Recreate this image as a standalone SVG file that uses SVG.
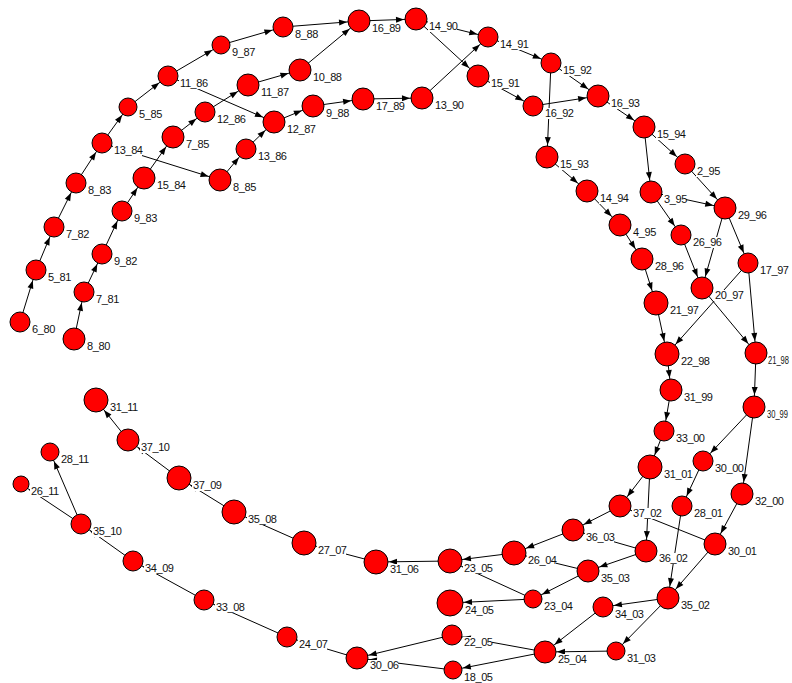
<svg xmlns="http://www.w3.org/2000/svg" width="792" height="683" viewBox="0 0 792 683">
<style>
.e line{stroke:#000;stroke-width:1}
.n circle{fill:#ff0000;stroke:#000;stroke-width:1}
.n rect{fill:#fff}
.n text{font-family:"Liberation Sans",Arial,sans-serif;font-size:11px;letter-spacing:-0.4px;fill:#111}
.n text.edge{font-size:10px;letter-spacing:0}
</style>
<defs>
<marker id="a8" markerUnits="userSpaceOnUse" markerWidth="30" markerHeight="30" refX="9" refY="0" orient="auto" overflow="visible"><path d="M0,0 L-8,-3 L-8,3 Z" fill="#000"/></marker>
<marker id="a9" markerUnits="userSpaceOnUse" markerWidth="30" markerHeight="30" refX="10" refY="0" orient="auto" overflow="visible"><path d="M0,0 L-8,-3 L-8,3 Z" fill="#000"/></marker>
<marker id="a10" markerUnits="userSpaceOnUse" markerWidth="30" markerHeight="30" refX="11" refY="0" orient="auto" overflow="visible"><path d="M0,0 L-8,-3 L-8,3 Z" fill="#000"/></marker>
<marker id="a11" markerUnits="userSpaceOnUse" markerWidth="30" markerHeight="30" refX="12" refY="0" orient="auto" overflow="visible"><path d="M0,0 L-8,-3 L-8,3 Z" fill="#000"/></marker>
<marker id="a12" markerUnits="userSpaceOnUse" markerWidth="30" markerHeight="30" refX="13" refY="0" orient="auto" overflow="visible"><path d="M0,0 L-8,-3 L-8,3 Z" fill="#000"/></marker>
<marker id="a13" markerUnits="userSpaceOnUse" markerWidth="30" markerHeight="30" refX="14" refY="0" orient="auto" overflow="visible"><path d="M0,0 L-8,-3 L-8,3 Z" fill="#000"/></marker>
</defs>
<rect width="792" height="683" fill="#fff"/>
<g id="edges" class="e">
<line x1="20" y1="322" x2="36" y2="270" marker-end="url(#a10)"/>
<line x1="36" y1="270" x2="54" y2="227" marker-end="url(#a10)"/>
<line x1="54" y1="227" x2="76" y2="183" marker-end="url(#a10)"/>
<line x1="76" y1="183" x2="102" y2="143" marker-end="url(#a10)"/>
<line x1="102" y1="143" x2="128" y2="107" marker-end="url(#a9)"/>
<line x1="128" y1="107" x2="168" y2="76" marker-end="url(#a10)"/>
<line x1="168" y1="76" x2="221" y2="45" marker-end="url(#a9)"/>
<line x1="221" y1="45" x2="283" y2="27" marker-end="url(#a10)"/>
<line x1="283" y1="27" x2="359" y2="21" marker-end="url(#a11)"/>
<line x1="359" y1="21" x2="416" y2="19" marker-end="url(#a11)"/>
<line x1="416" y1="19" x2="488" y2="37" marker-end="url(#a10)"/>
<line x1="416" y1="19" x2="478" y2="76" marker-end="url(#a11)"/>
<line x1="488" y1="37" x2="551" y2="63" marker-end="url(#a10)"/>
<line x1="478" y1="76" x2="533" y2="106" marker-end="url(#a10)"/>
<line x1="551" y1="63" x2="598" y2="96" marker-end="url(#a11)"/>
<line x1="533" y1="106" x2="598" y2="96" marker-end="url(#a11)"/>
<line x1="551" y1="63" x2="547" y2="157" marker-end="url(#a11)"/>
<line x1="598" y1="96" x2="644" y2="127" marker-end="url(#a11)"/>
<line x1="644" y1="127" x2="685" y2="164" marker-end="url(#a10)"/>
<line x1="644" y1="127" x2="651" y2="192" marker-end="url(#a11)"/>
<line x1="547" y1="157" x2="587" y2="191" marker-end="url(#a11)"/>
<line x1="587" y1="191" x2="620" y2="225" marker-end="url(#a11)"/>
<line x1="620" y1="225" x2="642" y2="259" marker-end="url(#a11)"/>
<line x1="642" y1="259" x2="656" y2="303" marker-end="url(#a12)"/>
<line x1="656" y1="303" x2="667" y2="354" marker-end="url(#a12)"/>
<line x1="685" y1="164" x2="725" y2="208" marker-end="url(#a11)"/>
<line x1="651" y1="192" x2="725" y2="208" marker-end="url(#a11)"/>
<line x1="651" y1="192" x2="681" y2="235" marker-end="url(#a10)"/>
<line x1="681" y1="235" x2="702" y2="288" marker-end="url(#a11)"/>
<line x1="725" y1="208" x2="702" y2="288" marker-end="url(#a11)"/>
<line x1="725" y1="208" x2="748" y2="263" marker-end="url(#a10)"/>
<line x1="748" y1="263" x2="667" y2="354" marker-end="url(#a12)"/>
<line x1="748" y1="263" x2="756" y2="353" marker-end="url(#a11)"/>
<line x1="702" y1="288" x2="756" y2="353" marker-end="url(#a11)"/>
<line x1="667" y1="354" x2="671" y2="390" marker-end="url(#a11)"/>
<line x1="671" y1="390" x2="664" y2="431" marker-end="url(#a10)"/>
<line x1="664" y1="431" x2="650" y2="467" marker-end="url(#a12)"/>
<line x1="756" y1="353" x2="754" y2="407" marker-end="url(#a11)"/>
<line x1="754" y1="407" x2="703" y2="461" marker-end="url(#a10)"/>
<line x1="754" y1="407" x2="742" y2="494" marker-end="url(#a11)"/>
<line x1="650" y1="467" x2="620" y2="506" marker-end="url(#a11)"/>
<line x1="650" y1="467" x2="646" y2="551" marker-end="url(#a11)"/>
<line x1="703" y1="461" x2="682" y2="506" marker-end="url(#a10)"/>
<line x1="682" y1="506" x2="668" y2="598" marker-end="url(#a11)"/>
<line x1="742" y1="494" x2="715" y2="544" marker-end="url(#a11)"/>
<line x1="715" y1="544" x2="668" y2="598" marker-end="url(#a11)"/>
<line x1="715" y1="544" x2="620" y2="506" marker-end="url(#a11)"/>
<line x1="620" y1="506" x2="573" y2="530" marker-end="url(#a11)"/>
<line x1="646" y1="551" x2="573" y2="530" marker-end="url(#a11)"/>
<line x1="646" y1="551" x2="588" y2="571" marker-end="url(#a11)"/>
<line x1="573" y1="530" x2="514" y2="553" marker-end="url(#a12)"/>
<line x1="588" y1="571" x2="514" y2="553" marker-end="url(#a12)"/>
<line x1="588" y1="571" x2="533" y2="599" marker-end="url(#a9)"/>
<line x1="514" y1="553" x2="450" y2="561" marker-end="url(#a12)"/>
<line x1="533" y1="599" x2="450" y2="561" marker-end="url(#a12)"/>
<line x1="533" y1="599" x2="450" y2="603" marker-end="url(#a13)"/>
<line x1="668" y1="598" x2="603" y2="607" marker-end="url(#a10)"/>
<line x1="668" y1="598" x2="616" y2="651" marker-end="url(#a9)"/>
<line x1="603" y1="607" x2="545" y2="652" marker-end="url(#a11)"/>
<line x1="616" y1="651" x2="545" y2="652" marker-end="url(#a11)"/>
<line x1="545" y1="652" x2="452" y2="635" marker-end="url(#a10)"/>
<line x1="545" y1="652" x2="453" y2="670" marker-end="url(#a9)"/>
<line x1="452" y1="635" x2="357" y2="658" marker-end="url(#a11)"/>
<line x1="453" y1="670" x2="357" y2="658" marker-end="url(#a11)"/>
<line x1="450" y1="561" x2="376" y2="562" marker-end="url(#a12)"/>
<line x1="376" y1="562" x2="304" y2="543" marker-end="url(#a12)"/>
<line x1="304" y1="543" x2="234" y2="512" marker-end="url(#a12)"/>
<line x1="234" y1="512" x2="179" y2="478" marker-end="url(#a12)"/>
<line x1="179" y1="478" x2="128" y2="440" marker-end="url(#a11)"/>
<line x1="128" y1="440" x2="96" y2="400" marker-end="url(#a12)"/>
<line x1="357" y1="658" x2="287" y2="637" marker-end="url(#a10)"/>
<line x1="287" y1="637" x2="204" y2="600" marker-end="url(#a10)"/>
<line x1="204" y1="600" x2="133" y2="561" marker-end="url(#a10)"/>
<line x1="133" y1="561" x2="81" y2="524" marker-end="url(#a10)"/>
<line x1="81" y1="524" x2="50" y2="452" marker-end="url(#a9)"/>
<line x1="81" y1="524" x2="21" y2="484" marker-end="url(#a8)"/>
<line x1="74" y1="339" x2="84" y2="292" marker-end="url(#a10)"/>
<line x1="84" y1="292" x2="102" y2="254" marker-end="url(#a10)"/>
<line x1="102" y1="254" x2="122" y2="211" marker-end="url(#a10)"/>
<line x1="122" y1="211" x2="144" y2="178" marker-end="url(#a11)"/>
<line x1="144" y1="178" x2="173" y2="137" marker-end="url(#a11)"/>
<line x1="173" y1="137" x2="205" y2="112" marker-end="url(#a10)"/>
<line x1="205" y1="112" x2="248" y2="85" marker-end="url(#a11)"/>
<line x1="248" y1="85" x2="300" y2="70" marker-end="url(#a11)"/>
<line x1="300" y1="70" x2="359" y2="21" marker-end="url(#a11)"/>
<line x1="102" y1="143" x2="220" y2="180" marker-end="url(#a11)"/>
<line x1="220" y1="180" x2="246" y2="149" marker-end="url(#a10)"/>
<line x1="246" y1="149" x2="274" y2="122" marker-end="url(#a11)"/>
<line x1="168" y1="76" x2="274" y2="122" marker-end="url(#a11)"/>
<line x1="274" y1="122" x2="313" y2="106" marker-end="url(#a11)"/>
<line x1="313" y1="106" x2="363" y2="99" marker-end="url(#a11)"/>
<line x1="363" y1="99" x2="422" y2="98" marker-end="url(#a11)"/>
<line x1="422" y1="98" x2="488" y2="37" marker-end="url(#a10)"/>
</g>
<g id="nodes">
<g id="n6_80" class="n"><circle cx="20" cy="322" r="10"/><rect x="31" y="324" width="23" height="11"/><text x="32" y="333">6_80</text></g>
<g id="n5_81" class="n"><circle cx="36" cy="270" r="10"/><rect x="47" y="272" width="23" height="11"/><text x="48" y="281">5_81</text></g>
<g id="n7_82" class="n"><circle cx="54" cy="227" r="10"/><rect x="65" y="229" width="23" height="11"/><text x="66" y="238">7_82</text></g>
<g id="n8_83" class="n"><circle cx="76" cy="183" r="10"/><rect x="87" y="185" width="23" height="11"/><text x="88" y="194">8_83</text></g>
<g id="n13_84" class="n"><circle cx="102" cy="143" r="10"/><rect x="113" y="145" width="29" height="11"/><text x="114" y="154">13_84</text></g>
<g id="n5_85" class="n"><circle cx="128" cy="107" r="9"/><rect x="138" y="109" width="23" height="11"/><text x="139" y="118">5_85</text></g>
<g id="n11_86" class="n"><circle cx="168" cy="76" r="10"/><rect x="179" y="78" width="29" height="11"/><text x="180" y="87">11_86</text></g>
<g id="n9_87" class="n"><circle cx="221" cy="45" r="9"/><rect x="231" y="47" width="23" height="11"/><text x="232" y="56">9_87</text></g>
<g id="n8_88" class="n"><circle cx="283" cy="27" r="10"/><rect x="294" y="29" width="23" height="11"/><text x="295" y="38">8_88</text></g>
<g id="n16_89" class="n"><circle cx="359" cy="21" r="11"/><rect x="371" y="23" width="29" height="11"/><text x="372" y="32">16_89</text></g>
<g id="n14_90" class="n"><circle cx="416" cy="19" r="11"/><rect x="428" y="21" width="29" height="11"/><text x="429" y="30">14_90</text></g>
<g id="n14_91" class="n"><circle cx="488" cy="37" r="10"/><rect x="499" y="39" width="29" height="11"/><text x="500" y="48">14_91</text></g>
<g id="n15_91" class="n"><circle cx="478" cy="76" r="11"/><rect x="490" y="78" width="29" height="11"/><text x="491" y="87">15_91</text></g>
<g id="n15_92" class="n"><circle cx="551" cy="63" r="10"/><rect x="562" y="65" width="29" height="11"/><text x="563" y="74">15_92</text></g>
<g id="n16_92" class="n"><circle cx="533" cy="106" r="10"/><rect x="544" y="108" width="29" height="11"/><text x="545" y="117">16_92</text></g>
<g id="n16_93" class="n"><circle cx="598" cy="96" r="11"/><rect x="610" y="98" width="29" height="11"/><text x="611" y="107">16_93</text></g>
<g id="n15_93" class="n"><circle cx="547" cy="157" r="11"/><rect x="559" y="159" width="29" height="11"/><text x="560" y="168">15_93</text></g>
<g id="n15_94" class="n"><circle cx="644" cy="127" r="11"/><rect x="656" y="129" width="29" height="11"/><text x="657" y="138">15_94</text></g>
<g id="n2_95" class="n"><circle cx="685" cy="164" r="10"/><rect x="696" y="166" width="23" height="11"/><text x="697" y="175">2_95</text></g>
<g id="n3_95" class="n"><circle cx="651" cy="192" r="11"/><rect x="663" y="194" width="23" height="11"/><text x="664" y="203">3_95</text></g>
<g id="n14_94" class="n"><circle cx="587" cy="191" r="11"/><rect x="599" y="193" width="29" height="11"/><text x="600" y="202">14_94</text></g>
<g id="n4_95" class="n"><circle cx="620" cy="225" r="11"/><rect x="632" y="227" width="23" height="11"/><text x="633" y="236">4_95</text></g>
<g id="n28_96" class="n"><circle cx="642" cy="259" r="11"/><rect x="654" y="261" width="29" height="11"/><text x="655" y="270">28_96</text></g>
<g id="n21_97" class="n"><circle cx="656" cy="303" r="12"/><rect x="669" y="305" width="29" height="11"/><text x="670" y="314">21_97</text></g>
<g id="n29_96" class="n"><circle cx="725" cy="208" r="11"/><rect x="737" y="210" width="29" height="11"/><text x="738" y="219">29_96</text></g>
<g id="n26_96" class="n"><circle cx="681" cy="235" r="10"/><rect x="692" y="237" width="29" height="11"/><text x="693" y="246">26_96</text></g>
<g id="n20_97" class="n"><circle cx="702" cy="288" r="11"/><rect x="714" y="290" width="29" height="11"/><text x="715" y="299">20_97</text></g>
<g id="n17_97" class="n"><circle cx="748" cy="263" r="10"/><rect x="759" y="265" width="29" height="11"/><text x="760" y="274">17_97</text></g>
<g id="n22_98" class="n"><circle cx="667" cy="354" r="12"/><rect x="680" y="356" width="29" height="11"/><text x="681" y="365">22_98</text></g>
<g id="n21_98" class="n"><circle cx="756" cy="353" r="11"/><rect x="768" y="355" width="22" height="11"/><text class="edge" x="768" y="364" textLength="21" lengthAdjust="spacingAndGlyphs">21_98</text></g>
<g id="n31_99" class="n"><circle cx="671" cy="390" r="11"/><rect x="683" y="392" width="29" height="11"/><text x="684" y="401">31_99</text></g>
<g id="n30_99" class="n"><circle cx="754" cy="407" r="11"/><rect x="766" y="409" width="23" height="11"/><text class="edge" x="767" y="418" textLength="21" lengthAdjust="spacingAndGlyphs">30_99</text></g>
<g id="n33_00" class="n"><circle cx="664" cy="431" r="10"/><rect x="675" y="433" width="29" height="11"/><text x="676" y="442">33_00</text></g>
<g id="n31_01" class="n"><circle cx="650" cy="467" r="12"/><rect x="663" y="469" width="29" height="11"/><text x="664" y="478">31_01</text></g>
<g id="n30_00" class="n"><circle cx="703" cy="461" r="10"/><rect x="714" y="463" width="29" height="11"/><text x="715" y="472">30_00</text></g>
<g id="n32_00" class="n"><circle cx="742" cy="494" r="11"/><rect x="754" y="496" width="29" height="11"/><text x="755" y="505">32_00</text></g>
<g id="n28_01" class="n"><circle cx="682" cy="506" r="10"/><rect x="693" y="508" width="29" height="11"/><text x="694" y="517">28_01</text></g>
<g id="n37_02" class="n"><circle cx="620" cy="506" r="11"/><rect x="632" y="508" width="29" height="11"/><text x="633" y="517">37_02</text></g>
<g id="n30_01" class="n"><circle cx="715" cy="544" r="11"/><rect x="727" y="546" width="29" height="11"/><text x="728" y="555">30_01</text></g>
<g id="n36_03" class="n"><circle cx="573" cy="530" r="11"/><rect x="585" y="532" width="29" height="11"/><text x="586" y="541">36_03</text></g>
<g id="n36_02" class="n"><circle cx="646" cy="551" r="11"/><rect x="658" y="553" width="29" height="11"/><text x="659" y="562">36_02</text></g>
<g id="n26_04" class="n"><circle cx="514" cy="553" r="12"/><rect x="527" y="555" width="29" height="11"/><text x="528" y="564">26_04</text></g>
<g id="n35_03" class="n"><circle cx="588" cy="571" r="11"/><rect x="600" y="573" width="29" height="11"/><text x="601" y="582">35_03</text></g>
<g id="n23_05" class="n"><circle cx="450" cy="561" r="12"/><rect x="463" y="563" width="29" height="11"/><text x="464" y="572">23_05</text></g>
<g id="n23_04" class="n"><circle cx="533" cy="599" r="9"/><rect x="543" y="601" width="29" height="11"/><text x="544" y="610">23_04</text></g>
<g id="n24_05" class="n"><circle cx="450" cy="603" r="13"/><rect x="464" y="605" width="29" height="11"/><text x="465" y="614">24_05</text></g>
<g id="n35_02" class="n"><circle cx="668" cy="598" r="11"/><rect x="680" y="600" width="29" height="11"/><text x="681" y="609">35_02</text></g>
<g id="n34_03" class="n"><circle cx="603" cy="607" r="10"/><rect x="614" y="609" width="29" height="11"/><text x="615" y="618">34_03</text></g>
<g id="n22_05" class="n"><circle cx="452" cy="635" r="10"/><rect x="463" y="637" width="29" height="11"/><text x="464" y="646">22_05</text></g>
<g id="n25_04" class="n"><circle cx="545" cy="652" r="11"/><rect x="557" y="654" width="29" height="11"/><text x="558" y="663">25_04</text></g>
<g id="n31_03" class="n"><circle cx="616" cy="651" r="9"/><rect x="626" y="653" width="29" height="11"/><text x="627" y="662">31_03</text></g>
<g id="n18_05" class="n"><circle cx="453" cy="670" r="9"/><rect x="463" y="672" width="29" height="11"/><text x="464" y="681">18_05</text></g>
<g id="n30_06" class="n"><circle cx="357" cy="658" r="11"/><rect x="369" y="660" width="29" height="11"/><text x="370" y="669">30_06</text></g>
<g id="n24_07" class="n"><circle cx="287" cy="637" r="10"/><rect x="298" y="639" width="29" height="11"/><text x="299" y="648">24_07</text></g>
<g id="n33_08" class="n"><circle cx="204" cy="600" r="10"/><rect x="215" y="602" width="29" height="11"/><text x="216" y="611">33_08</text></g>
<g id="n34_09" class="n"><circle cx="133" cy="561" r="10"/><rect x="144" y="563" width="29" height="11"/><text x="145" y="572">34_09</text></g>
<g id="n35_10" class="n"><circle cx="81" cy="524" r="10"/><rect x="92" y="526" width="29" height="11"/><text x="93" y="535">35_10</text></g>
<g id="n28_11" class="n"><circle cx="50" cy="452" r="9"/><rect x="60" y="454" width="29" height="11"/><text x="61" y="463">28_11</text></g>
<g id="n26_11" class="n"><circle cx="21" cy="484" r="8"/><rect x="30" y="486" width="29" height="11"/><text x="31" y="495">26_11</text></g>
<g id="n31_11" class="n"><circle cx="96" cy="400" r="12"/><rect x="109" y="402" width="29" height="11"/><text x="110" y="411">31_11</text></g>
<g id="n37_10" class="n"><circle cx="128" cy="440" r="11"/><rect x="140" y="442" width="29" height="11"/><text x="141" y="451">37_10</text></g>
<g id="n37_09" class="n"><circle cx="179" cy="478" r="12"/><rect x="192" y="480" width="29" height="11"/><text x="193" y="489">37_09</text></g>
<g id="n35_08" class="n"><circle cx="234" cy="512" r="12"/><rect x="247" y="514" width="29" height="11"/><text x="248" y="523">35_08</text></g>
<g id="n27_07" class="n"><circle cx="304" cy="543" r="12"/><rect x="317" y="545" width="29" height="11"/><text x="318" y="554">27_07</text></g>
<g id="n31_06" class="n"><circle cx="376" cy="562" r="12"/><rect x="389" y="564" width="29" height="11"/><text x="390" y="573">31_06</text></g>
<g id="n8_80" class="n"><circle cx="74" cy="339" r="11"/><rect x="86" y="341" width="23" height="11"/><text x="87" y="350">8_80</text></g>
<g id="n7_81" class="n"><circle cx="84" cy="292" r="10"/><rect x="95" y="294" width="23" height="11"/><text x="96" y="303">7_81</text></g>
<g id="n9_82" class="n"><circle cx="102" cy="254" r="10"/><rect x="113" y="256" width="23" height="11"/><text x="114" y="265">9_82</text></g>
<g id="n9_83" class="n"><circle cx="122" cy="211" r="10"/><rect x="133" y="213" width="23" height="11"/><text x="134" y="222">9_83</text></g>
<g id="n15_84" class="n"><circle cx="144" cy="178" r="11"/><rect x="156" y="180" width="29" height="11"/><text x="157" y="189">15_84</text></g>
<g id="n7_85" class="n"><circle cx="173" cy="137" r="11"/><rect x="185" y="139" width="23" height="11"/><text x="186" y="148">7_85</text></g>
<g id="n12_86" class="n"><circle cx="205" cy="112" r="10"/><rect x="216" y="114" width="29" height="11"/><text x="217" y="123">12_86</text></g>
<g id="n11_87" class="n"><circle cx="248" cy="85" r="11"/><rect x="260" y="87" width="29" height="11"/><text x="261" y="96">11_87</text></g>
<g id="n10_88" class="n"><circle cx="300" cy="70" r="11"/><rect x="312" y="72" width="29" height="11"/><text x="313" y="81">10_88</text></g>
<g id="n12_87" class="n"><circle cx="274" cy="122" r="11"/><rect x="286" y="124" width="29" height="11"/><text x="287" y="133">12_87</text></g>
<g id="n13_86" class="n"><circle cx="246" cy="149" r="10"/><rect x="257" y="151" width="29" height="11"/><text x="258" y="160">13_86</text></g>
<g id="n8_85" class="n"><circle cx="220" cy="180" r="11"/><rect x="232" y="182" width="23" height="11"/><text x="233" y="191">8_85</text></g>
<g id="n9_88" class="n"><circle cx="313" cy="106" r="11"/><rect x="325" y="108" width="23" height="11"/><text x="326" y="117">9_88</text></g>
<g id="n17_89" class="n"><circle cx="363" cy="99" r="11"/><rect x="375" y="101" width="29" height="11"/><text x="376" y="110">17_89</text></g>
<g id="n13_90" class="n"><circle cx="422" cy="98" r="11"/><rect x="434" y="100" width="29" height="11"/><text x="435" y="109">13_90</text></g>
</g>
</svg>
